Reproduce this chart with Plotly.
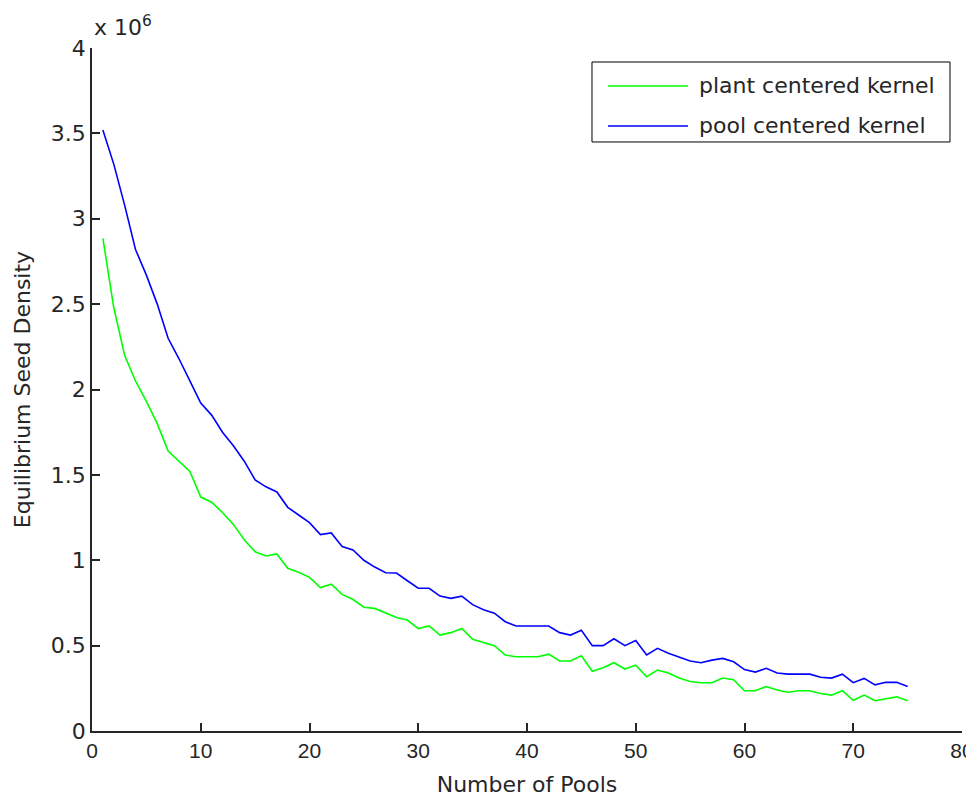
import plotly.graph_objects as go

# Number of pools (x values)
pools = list(range(1, 76))

# Equilibrium seed density, in units of 1e6
plant_centered = [
    2.885, 2.48, 2.20, 2.05, 1.93, 1.80, 1.64, 1.58, 1.52, 1.37,
    1.34, 1.28, 1.21, 1.12, 1.05, 1.025, 1.037, 0.953, 0.93, 0.90,
    0.84, 0.86, 0.80, 0.77, 0.725, 0.718, 0.69, 0.665, 0.65, 0.60,
    0.615, 0.562, 0.576, 0.60, 0.537, 0.517, 0.50, 0.445, 0.435, 0.435,
    0.435, 0.45, 0.41, 0.41, 0.44, 0.35, 0.37, 0.40, 0.363, 0.386,
    0.318, 0.357, 0.34, 0.31, 0.29, 0.283, 0.283, 0.31, 0.30, 0.236,
    0.236, 0.26, 0.24, 0.227, 0.236, 0.236, 0.22, 0.21, 0.236, 0.18,
    0.21, 0.177, 0.19, 0.20, 0.177,
]
pool_centered = [
    3.52, 3.32, 3.08, 2.82, 2.67, 2.50, 2.30, 2.18, 2.05, 1.92,
    1.85, 1.75, 1.67, 1.58, 1.47, 1.43, 1.40, 1.31, 1.265, 1.22,
    1.15, 1.16, 1.08, 1.06, 1.00, 0.96, 0.927, 0.925, 0.88, 0.836,
    0.836, 0.79, 0.777, 0.79, 0.74, 0.71, 0.69, 0.64, 0.615, 0.615,
    0.615, 0.615, 0.576, 0.562, 0.59, 0.50, 0.50, 0.54, 0.50, 0.53,
    0.445, 0.484, 0.456, 0.435, 0.41, 0.40, 0.415, 0.425, 0.405, 0.36,
    0.345, 0.367, 0.34, 0.333, 0.333, 0.333, 0.315, 0.31, 0.333, 0.283,
    0.308, 0.27, 0.285, 0.285, 0.26,
]
scale = 1e6

series_names = ["plant centered kernel", "pool centered kernel"]
series_colors = ["#00FF00", "#0000FF"]

x_ticks = [0, 10, 20, 30, 40, 50, 60, 70, 80]
y_ticks = [0, 0.5, 1, 1.5, 2, 2.5, 3, 3.5, 4]
y_tick_labels = ["0", "0.5", "1", "1.5", "2", "2.5", "3", "3.5", "4"]

FONT = "DejaVu Sans, Verdana, sans-serif"
NARROW_FONT = "Liberation Sans, Arial, Helvetica, sans-serif"
FS = 22
TEXT_COLOR = "#262626"
AXIS_COLOR = "#262626"

fig = go.Figure()
for name, color, vals in zip(series_names, series_colors, [plant_centered, pool_centered]):
    fig.add_trace(go.Scatter(
        x=pools, y=[v * scale for v in vals], mode="lines",
        name=name, line=dict(color=color, width=1.6), showlegend=False,
    ))

# Legend drawn MATLAB-style (long line samples) in paper coordinates
shapes = [dict(type="rect", xref="paper", yref="paper",
               x0=0.5747, x1=0.9862, y0=0.8624, y1=0.9795,
               line=dict(color="black", width=1), fillcolor="white", layer="above")]
annotations = []
row_y = [0.9444, 0.8858]
for name, color, yy in zip(series_names, series_colors, row_y):
    shapes.append(dict(type="line", xref="paper", yref="paper",
                       x0=0.5931, x1=0.6851, y0=yy, y1=yy,
                       line=dict(color=color, width=1.6), layer="above"))
    annotations.append(dict(text=name, xref="paper", yref="paper",
                            x=0.6954, y=yy, xanchor="left", yanchor="middle",
                            showarrow=False,
                            font=dict(size=FS, family=FONT, color=TEXT_COLOR)))

annotations.append(dict(text="x 10<sup>6</sup>", xref="paper", yref="paper",
                        x=0.0, y=1.0, xanchor="left", yanchor="bottom", yshift=6,
                        showarrow=False,
                        font=dict(size=FS, family=FONT, color=TEXT_COLOR)))

fig.update_layout(
    width=974, height=801,
    margin=dict(l=84, r=20, t=40, b=78),
    paper_bgcolor="white", plot_bgcolor="white",
    font=dict(family=FONT, size=FS, color=TEXT_COLOR),
    showlegend=False,
    shapes=shapes,
    annotations=annotations,
)

fig.update_xaxes(
    range=[0, 80], tickmode="array", tickvals=x_ticks,
    ticks="inside", ticklen=8, tickwidth=1.5, tickcolor=AXIS_COLOR,
    showline=True, linecolor=AXIS_COLOR, linewidth=1.5,
    showgrid=False, zeroline=False, automargin=False,
    ticklabeloverflow="allow",
    title=dict(text="Number of Pools", font=dict(size=FS, family=FONT), standoff=16),
    tickfont=dict(size=21, family=NARROW_FONT, color=TEXT_COLOR),
)
fig.update_yaxes(
    range=[0, 4 * scale], tickmode="array",
    tickvals=[t * scale for t in y_ticks], ticktext=y_tick_labels,
    ticks="inside", ticklen=8, tickwidth=1.5, tickcolor=AXIS_COLOR,
    showline=True, linecolor=AXIS_COLOR, linewidth=1.5,
    showgrid=False, zeroline=False, automargin=False,
    ticklabeloverflow="allow",
    title=dict(text="Equilibrium Seed Density", font=dict(size=FS, family=FONT), standoff=14),
    tickfont=dict(size=FS, family=FONT, color=TEXT_COLOR),
)

fig.write_html("out.html")
